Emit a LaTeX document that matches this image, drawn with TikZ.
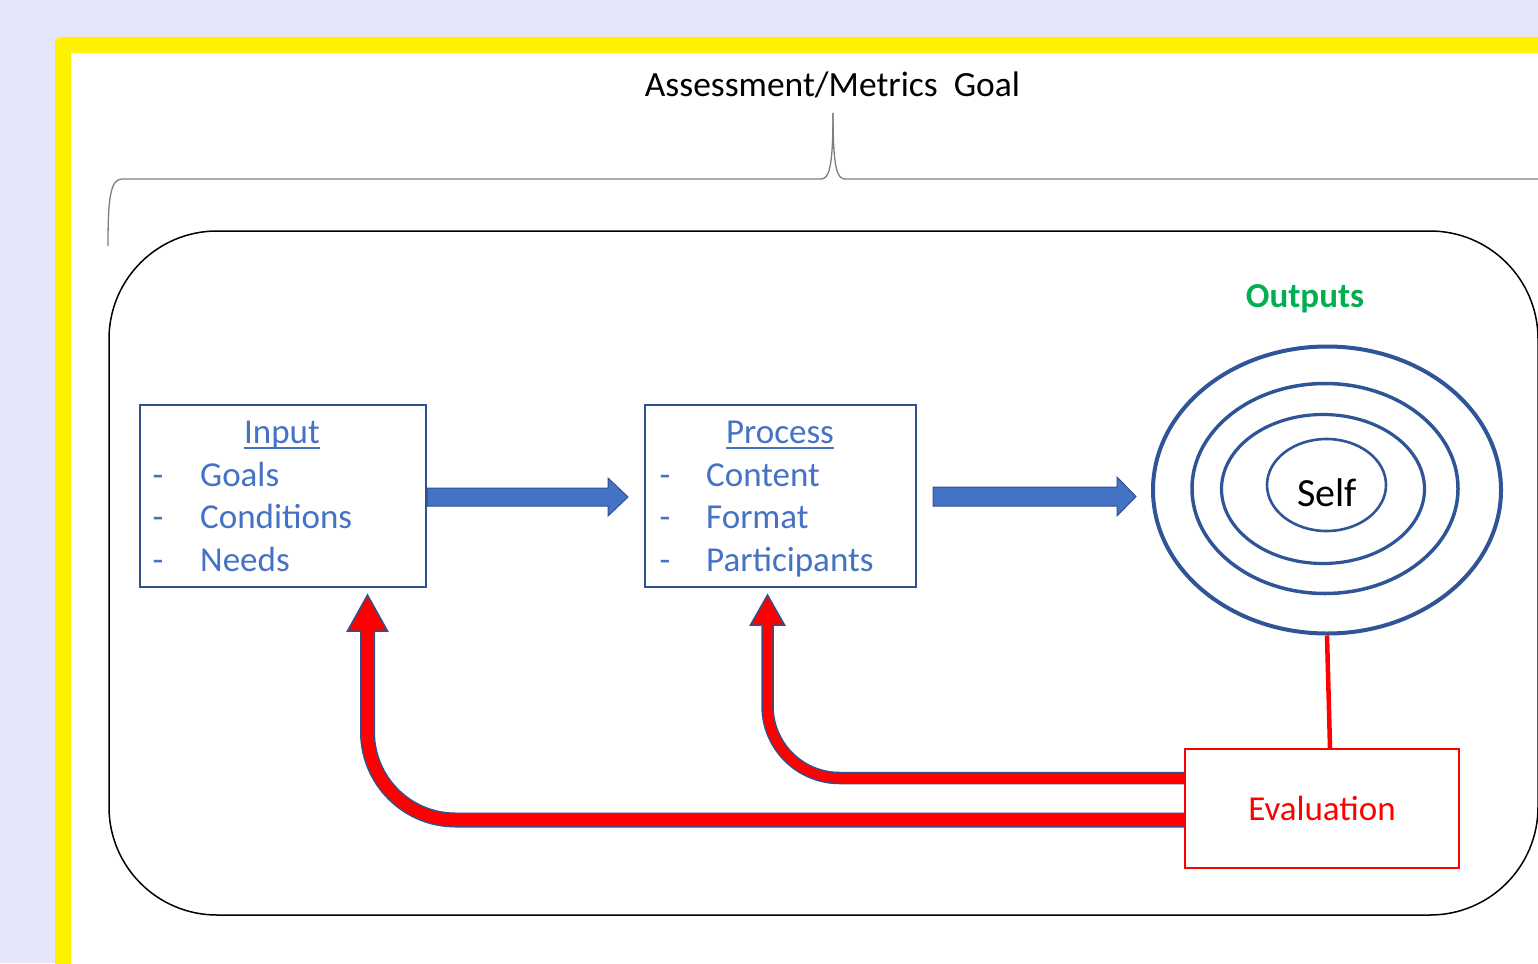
\documentclass[tikz,border=0pt]{standalone}
\usepackage{fontspec}
\setmainfont{Carlito}
\usetikzlibrary{shapes.geometric,calc}
\definecolor{bg}{HTML}{E6E6FA}
\definecolor{txtblue}{HTML}{4472C4}
\definecolor{boxblue}{HTML}{2F528F}
\definecolor{ringblue}{HTML}{2F5597}
\definecolor{outgreen}{HTML}{00B050}
\definecolor{bracegray}{HTML}{7F7F7F}
\begin{document}
\begin{tikzpicture}[x=1pt,y=-1pt,
  txt/.style={font=\fontsize{35pt}{42pt}\selectfont, inner sep=0pt},
  btxt/.style={txt, text=txtblue},
  bluebox/.style={draw=boxblue, line width=2pt, inner sep=0pt},
  ring/.style={ellipse, draw=ringblue, inner sep=0pt},
  bluearrow/.style={fill=txtblue, draw=boxblue, line width=1pt},
  redshaft/.style={draw=boxblue, double=red, line width=1.5pt},
  redhead/.style={fill=red, draw=boxblue, line width=1.5pt, line join=miter}]
\useasboundingbox (0,0) rectangle (1538,963);
\clip (0,0) rectangle (1538,963);
\fill[bg] (0,0) rectangle (1538,963);
\fill[yellow, rounded corners=6pt] (55,37) rectangle (1700,1100);
\fill[white] (71,53) rectangle (1700,1100);

% title and brace
\node[txt, anchor=base, font=\fontsize{35.5pt}{42pt}\selectfont] (title) at (832.5,97) {Assessment/Metrics\ \ Goal};
\draw[bracegray, line width=1.3pt] (108,246) .. controls (108,200) and (110,179) .. (122,179) -- (821,179) .. controls (829,179) and (833,168) .. (833,113);
\draw[bracegray, line width=1.3pt] (833,113) .. controls (833,168) and (837,179) .. (845,179) -- (1700,179);

% container
\draw[black, line width=1.5pt, rounded corners=108pt] (109,231) rectangle (1538,915);

% input box
\node[bluebox, minimum width=286pt, minimum height=182pt] (input) at (283,496) {};
\node[btxt, anchor=base] (inlbl) at (282,443) {Input};
\draw[txtblue, line width=1.8pt] ($(inlbl.base west)+(0,5)$) -- ($(inlbl.base east)+(0,5)$);
\node[btxt, anchor=base] (ind1) at (158,486) {-};
\node[btxt, anchor=base] (ind2) at (158,528.5) {-};
\node[btxt, anchor=base] (ind3) at (158,571) {-};
\node[btxt, anchor=base west] (ingoals) at (200,486) {Goals};
\node[btxt, anchor=base west] (incond) at (200,528.5) {Conditions};
\node[btxt, anchor=base west] (inneeds) at (200,571) {Needs};

% process box
\node[bluebox, minimum width=271pt, minimum height=182pt] (process) at (780.5,496) {};
\node[btxt, anchor=base] (prlbl) at (780,443) {Process};
\draw[txtblue, line width=1.8pt] ($(prlbl.base west)+(0,5)$) -- ($(prlbl.base east)+(0,5)$);
\node[btxt, anchor=base] (prd1) at (665,486) {-};
\node[btxt, anchor=base] (prd2) at (665,528.5) {-};
\node[btxt, anchor=base] (prd3) at (665,571) {-};
\node[btxt, anchor=base west] (prcont) at (706,486) {Content};
\node[btxt, anchor=base west] (prform) at (706,528.5) {Format};
\node[btxt, anchor=base west] (prpart) at (706,571) {Participants};

% outputs rings
\node[txt, anchor=base, text=outgreen, font=\fontsize{35pt}{42pt}\selectfont\bfseries] (outlbl) at (1305,307) {Outputs};
\node[ring, line width=4pt, minimum width=348pt, minimum height=287pt] (o1) at (1327,490) {};
\node[ring, line width=3.5pt, minimum width=266pt, minimum height=210pt] (o2) at (1325,488.5) {};
\node[ring, line width=3.2pt, minimum width=203pt, minimum height=149pt] (o3) at (1323,489) {};
\node[ring, line width=2.6pt, minimum width=119pt, minimum height=92pt] (o4) at (1326.5,485) {};
\node[txt, anchor=base, font=\fontsize{40pt}{48pt}\selectfont] (selflbl) at (1327,506) {Self};

% evaluation
\node[draw=red, line width=2pt, inner sep=0pt, minimum width=274pt, minimum height=119pt] (eval) at (1322,808.5) {};
\node[txt, text=red, anchor=base] (evallbl) at (1322,820) {Evaluation};

% blue arrows
\filldraw[bluearrow] ($(input.east)+(0,-8)$) -- ++(181,0) -- ++(0,-10) -- ++(20,19) -- ++(-20,19) -- ++(0,-10) -- ++(-181,0) -- cycle;
\filldraw[bluearrow] ($(process.east)+(16,-9)$) -- ++(184,0) -- ++(0,-10) -- ++(19,19.5) -- ++(-19,19.5) -- ++(0,-10) -- ++(-184,0) -- cycle;

% red link
\draw[red, line width=4.5pt] (o1.south) -- ($(eval.north)+(8,0)$);

% red feedback arrows
\draw[redshaft, double distance=12pt, rounded corners=88pt] ($(eval.west)+(0,11.5)$) -| ($(input.south)+(84.5,42)$);
\filldraw[redhead] ($(input.south)+(77,43)$) -- ++(-12.5,0) -- ++(20,-36) -- ++(20,36) -- ++(-12.5,0);
\draw[redshaft, double distance=9.5pt, rounded corners=72pt] ($(eval.west)+(0,-30.5)$) -| ($(process.south)+(-13,36)$);
\filldraw[redhead] ($(process.south)+(-19.25,37)$) -- ++(-10.75,0) -- ++(17,-30) -- ++(17,30) -- ++(-10.75,0);
\end{tikzpicture}
\end{document}
